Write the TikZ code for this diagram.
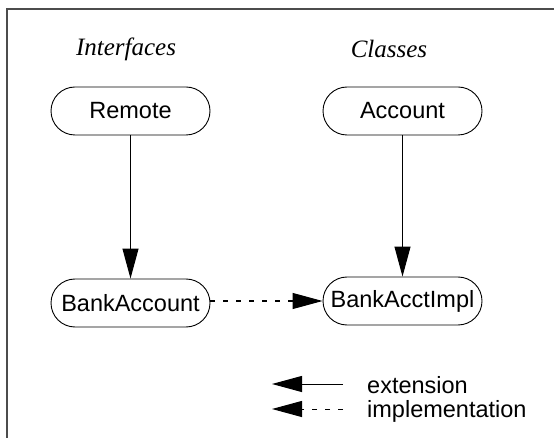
\documentclass[tikz,border=0pt]{standalone}
\usepackage{fontspec}
\setmainfont{Liberation Serif}
\setsansfont{Liberation Sans}
\usetikzlibrary{arrows.meta}

\begin{document}
\begin{tikzpicture}[x=1pt,y=-1pt,>={Triangle[length=30pt,width=16pt]},
                    node distance=272pt,font=\sffamily\fontsize{23.5}{26}\selectfont]
  \tikzstyle{class}=[rectangle,draw=black,rounded corners=24pt,minimum width=159pt,
                     minimum height=48pt,line width=0.9pt]
  \tikzstyle{title}=[font=\rmfamily\itshape\fontsize{25}{29}\selectfont]
  \tikzstyle{ext}=[->,line width=1pt]
  \tikzstyle{impl}=[->,line width=1pt,dash pattern=on 5pt off 8pt]
  \tikzstyle{legend}=[anchor=base west,inner sep=0pt]

  \useasboundingbox (0,0) rectangle (554,438);
  \draw[black!70,line width=2pt] (554,9.5) -- (6.5,9.5) -- (6.5,438);

  \node[title] (ifc) at (126,49) {Interfaces};
  \node[title] (cls)      [right of=ifc,node distance=263pt]     {Classes};

  \node[class] (remote) at (130.5,111)                         {Remote};
  \node[class] (account)  [right of=remote]                    {Account};
  \node[class] (bankacct) [below of=remote,node distance=192pt]  {BankAccount};
  \node[class] (impl)     [below of=account,node distance=190pt] {BankAcctImpl};

  \path (remote)   edge [ext]  (bankacct)
        (account)  edge [ext]  (impl)
        (bankacct.east |- impl) edge [impl] (impl);

  % legend
  \coordinate (extfrom) at (343,384);
  \coordinate (extto)   at (272,384);
  \coordinate (implfrom) at (343,409);
  \coordinate (implto)   at (272,409);
  \node[legend] (extlbl)  at (367,393) {extension};
  \node[legend] (impllbl) at (367,417) {implementation};
  \draw[ext]  (extfrom)  -- (extto);
  \draw[impl] (implfrom) -- (implto);
\end{tikzpicture}
\end{document}
